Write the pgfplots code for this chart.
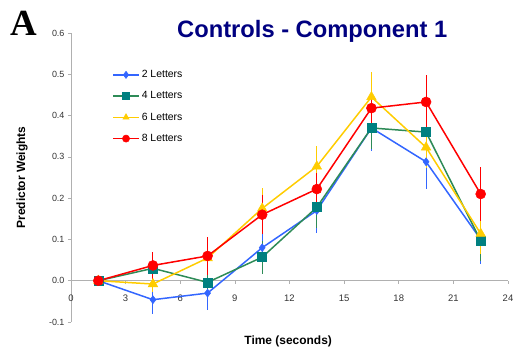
\documentclass[border=0pt]{standalone}
\usepackage{fontspec}
\setmainfont{Liberation Sans}
\newfontfamily\serifA{Liberation Serif}
\usepackage{pgfplots}
\pgfplotsset{compat=1.18}
\definecolor{cblue}{HTML}{3366FF}
\definecolor{cgreen}{HTML}{2E8B57}
\definecolor{cteal}{HTML}{008080}
\definecolor{cyellow}{HTML}{FFCC00}
\definecolor{cred}{HTML}{FF0000}
\definecolor{cnavy}{HTML}{000080}
\definecolor{axgray}{HTML}{B0B0B0}
\definecolor{txtgray}{HTML}{333333}
\begin{document}
\begin{tikzpicture}
\useasboundingbox (-71bp,-28bp) rectangle (447bp,322bp);
\begin{axis}[
  scale only axis,
  width=437bp, height=289bp,
  xmin=0, xmax=24, ymin=-0.1, ymax=0.6,
  axis x line=middle, axis y line=left,
  hide obscured x ticks=false,
  x axis line style={-, draw=axgray, line width=0.8pt},
  y axis line style={-, draw=axgray, line width=0.8pt},
  xtick={0,3,...,24},
  ytick={-0.1,0,0.1,0.2,0.3,0.4,0.5,0.6},
  tick style={draw=axgray, line width=0.6pt},
  tick align=outside,
  major tick length=3bp,
  /pgf/number format/assume math mode=true,
  yticklabel style={/pgf/number format/.cd, fixed, fixed zerofill, precision=1, /tikz/.cd, font=\fontsize{9}{10}\selectfont, text=txtgray},
  xticklabel style={font=\fontsize{9.5}{10}\selectfont, text=txtgray, yshift=-8bp},
  xlabel={Time (seconds)},
  ylabel={Predictor Weights},
  xlabel style={at={(axis description cs:0.497,-0.066)}, anchor=center, font=\bfseries\fontsize{12}{14}\selectfont},
  ylabel style={at={(axis description cs:-0.112,0.5)}, anchor=center, font=\bfseries\fontsize{12}{14}\selectfont},
  legend style={at={(0.094,0.878)}, anchor=north west, draw=none, fill=none,
    font=\fontsize{10.5}{12}\selectfont, row sep=8.5bp, inner sep=0pt,
    cells={anchor=west}},
  legend image code/.code={\draw[mark repeat=2,mark phase=2,#1,mark size=3.6bp] plot coordinates {(0bp,0bp) (13bp,0bp) (26bp,0bp)};},
  every axis plot/.append style={line width=1.5pt},
  error bars/y dir=both, error bars/y explicit,
  error bars/error mark=none,
  clip=false,
]
\addplot[color=cblue, mark=diamond*, mark size=4bp, mark options={fill=cblue, draw=cblue, line width=0.5pt},
  error bars/error bar style={cblue, line width=0.9pt}]
  coordinates {
  (1.5,0) +- (0,0)
  (4.5,-0.046) +- (0,0.035)
  (7.5,-0.030) +- (0,0.040)
  (10.5,0.080) +- (0,0.050)
  (13.5,0.170) +- (0,0.055)
  (16.5,0.370) +- (0,0.055)
  (19.5,0.288) +- (0,0.065)
  (22.5,0.100) +- (0,0.060)
  };
\addlegendentry{2 Letters}
\addplot[color=cgreen, mark=square*, mark size=4.5bp, mark options={fill=cteal, draw=cteal, line width=0.5pt},
  error bars/error bar style={cgreen, line width=0.9pt}]
  coordinates {
  (1.5,0) +- (0,0)
  (4.5,0.030) +- (0,0.020)
  (7.5,-0.004) +- (0,0.030)
  (10.5,0.057) +- (0,0.040)
  (13.5,0.178) +- (0,0.050)
  (16.5,0.370) +- (0,0.050)
  (19.5,0.360) +- (0,0.050)
  (22.5,0.097) +- (0,0.050)
  };
\addlegendentry{4 Letters}
\addplot[color=cyellow, mark=triangle*, mark size=5.5bp, mark options={fill=cyellow, draw=cyellow, line width=0.5pt},
  error bars/error bar style={cyellow, line width=0.9pt}]
  coordinates {
  (1.5,0) +- (0,0)
  (4.5,-0.008) +- (0,0.020)
  (7.5,0.055) +- (0,0.040)
  (10.5,0.175) +- (0,0.050)
  (13.5,0.277) +- (0,0.050)
  (16.5,0.445) +- (0,0.060)
  (19.5,0.323) +- (0,0.050)
  (22.5,0.114) +- (0,0.050)
  };
\addlegendentry{6 Letters}
\addplot[color=cred, mark=*, mark size=5bp, mark options={fill=cred, draw=cred, line width=0.5pt},
  error bars/error bar style={cred, line width=0.9pt}]
  coordinates {
  (1.5,0) +- (0,0)
  (4.5,0.037) +- (0,0.032)
  (7.5,0.060) +- (0,0.045)
  (10.5,0.160) +- (0,0.048)
  (13.5,0.222) +- (0,0.040)
  (16.5,0.418) +- (0,0.040)
  (19.5,0.433) +- (0,0.066)
  (22.5,0.210) +- (0,0.066)
  };
\addlegendentry{8 Letters}
\node[anchor=center, text=cnavy, font=\bfseries\fontsize{23.8}{26}\selectfont, inner sep=0pt] at ([yshift=2bp]rel axis cs:0.552,1) {Controls - Component 1};
\node[anchor=base west, font=\serifA\bfseries\fontsize{37}{40}\selectfont, inner sep=0pt] at ([xshift=-61bp,yshift=-2bp]rel axis cs:0,1) {A};
\end{axis}
\end{tikzpicture}
\end{document}
